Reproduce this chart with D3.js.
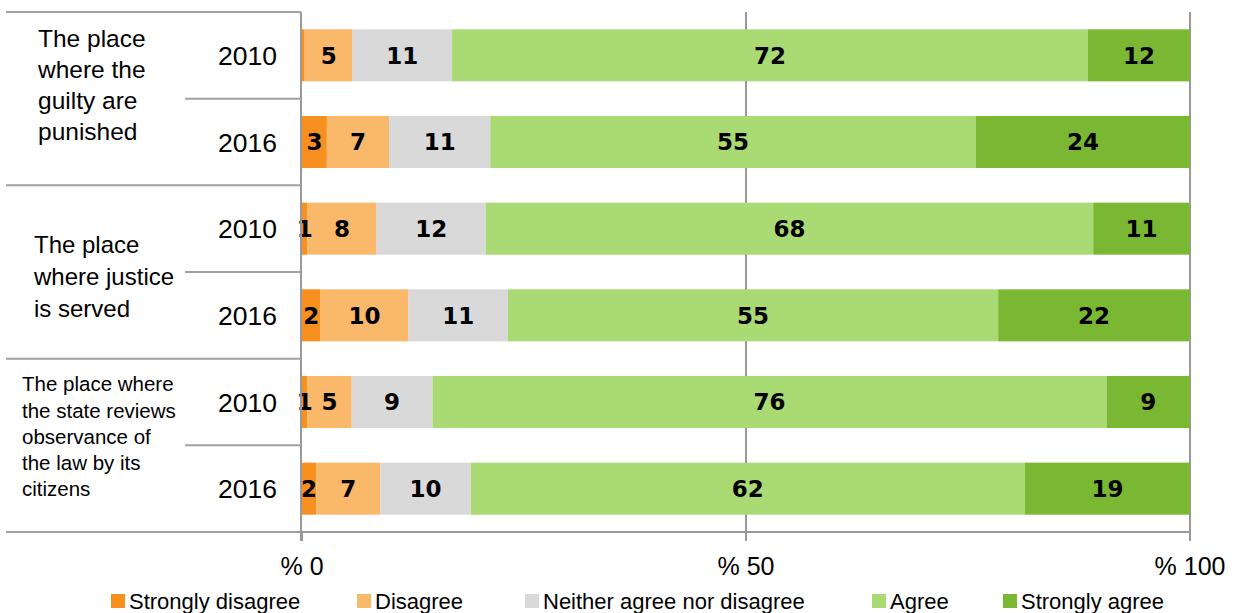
<!DOCTYPE html>
<style>
body { margin: 0; background: #fff; }
text { font-family: "Liberation Sans", Arial, sans-serif; }
</style>
<svg width="1243" height="613"></svg>
<script src="https://d3js.org/d3.v7.min.js"></script>
<script>

var groups = [
  ["The place", "where the", "guilty are", "punished"],
  ["The place", "where justice", "is served"],
  ["The place where", "the state reviews", "observance of", "the law by its", "citizens"]
];
var years = ["2010", "2016"];
var keys = ["Strongly disagree", "Disagree", "Neither agree nor disagree", "Agree", "Strongly agree"];

// percent per row, in the order of keys
var guilty2010  = [0.3, 5.4, 11.2, 71.6, 11.5];
var guilty2016  = [2.8, 7.0, 11.4, 54.7, 24.1];
var justice2010 = [0.6, 7.8, 12.3, 68.4, 10.9];
var justice2016 = [2.1, 9.9, 11.2, 55.2, 21.6];
var state2010   = [0.6, 5.0, 9.1, 75.9, 9.4];
var state2016   = [1.6, 7.2, 10.2, 62.4, 18.6];

var tickValues = [0, 50, 100];

var rowsRaw = [guilty2010, guilty2016, justice2010, justice2016, state2010, state2016];
var data = rowsRaw.map(function(v, i) {
  var d = {id: i, group: Math.floor(i / 2), year: years[i % 2]};
  keys.forEach(function(k, j) { d[k] = v[j]; });
  return d;
});

var svg = d3.select("svg");
var x = d3.scaleLinear().domain([0, 100]).range([302, 1190]);
var y = d3.scaleBand().domain(data.map(function(d) { return d.id; }))
    .range([12, 532]).paddingInner(0.4).paddingOuter(0.2);
var z = d3.scaleOrdinal().domain(keys)
    .range(["#f7901e", "#fab86a", "#d9d9d9", "#a9da74", "#7ab833"]);

// gridlines
svg.append("g").selectAll("line")
  .data(tickValues.slice(1))
  .enter().append("line")
    .attr("x1", function(d) { return x(d); })
    .attr("x2", function(d) { return x(d); })
    .attr("y1", 12).attr("y2", 541)
    .attr("stroke", "#999").attr("stroke-width", 2);

var series = d3.stack().keys(keys)(data);

svg.append("g")
  .selectAll("g")
  .data(series)
  .enter().append("g")
    .attr("fill", function(d) { return z(d.key); })
  .selectAll("rect")
  .data(function(d) { return d; })
  .enter().append("rect")
    .attr("x", function(d) { return x(d[0]); })
    .attr("y", function(d) { return y(d.data.id); })
    .attr("width", function(d) { return x(d[1]) - x(d[0]); })
    .attr("height", y.bandwidth());

// value labels
series.forEach(function(s) {
  svg.append("g").selectAll("text")
    .data(s.filter(function(d) { return Math.round(d[1] - d[0]) >= 1; }))
    .enter().append("text")
      .attr("x", function(d) { return (x(d[0]) + x(d[1])) / 2; })
      .attr("y", function(d) { return y(d.data.id) + y.bandwidth() / 2; })
      .attr("dy", "0.36em")
      .attr("text-anchor", "middle")
      .attr("font-size", 23)
      .attr("font-weight", "bold")
      .style("font-family", "'DejaVu Sans', sans-serif")
      .attr("fill", "#000")
      .text(function(d) { return Math.round(d[1] - d[0]); });
});

// left axis and separators
var sep = "#a0a0a0";
svg.append("line").attr("x1", 301).attr("x2", 301).attr("y1", 12).attr("y2", 541)
  .attr("stroke", "#999").attr("stroke-width", 2);
svg.append("line").attr("x1", 301).attr("x2", 1190).attr("y1", 532).attr("y2", 532)
  .attr("stroke", "#999").attr("stroke-width", 2);

var step = y.step();
var groupEdges = [0, 2, 4, 6].map(function(i) { return 12 + i * step; });
svg.append("g").selectAll("line")
  .data(groupEdges)
  .enter().append("line")
    .attr("x1", 6).attr("x2", 301)
    .attr("y1", function(d) { return d; }).attr("y2", function(d) { return d; })
    .attr("stroke", sep).attr("stroke-width", 2);
svg.append("g").selectAll("line")
  .data([1, 3, 5])
  .enter().append("line")
    .attr("x1", 185).attr("x2", 301)
    .attr("y1", function(i) { return 12 + i * step; })
    .attr("y2", function(i) { return 12 + i * step; })
    .attr("stroke", sep).attr("stroke-width", 2);

// year labels
svg.append("g").selectAll("text")
  .data(data)
  .enter().append("text")
    .attr("x", 277)
    .attr("y", function(d) { return y(d.id) + y.bandwidth() / 2; })
    .attr("dy", "0.36em")
    .attr("text-anchor", "end")
    .attr("font-size", 26.5)
    .attr("fill", "#000")
    .text(function(d) { return d.year; });

// group labels
var groupLayout = [
  {x: 38, y: 38, lh: 31, fs: 24.5},
  {x: 34, y: 244, lh: 32, fs: 24},
  {x: 22, y: 384, lh: 26.2, fs: 20.5}
];
groups.forEach(function(lines, gi) {
  var L = groupLayout[gi];
  svg.append("text")
    .attr("x", L.x).attr("y", L.y)
    .attr("font-size", L.fs).attr("fill", "#000")
    .selectAll("tspan")
    .data(lines)
    .enter().append("tspan")
      .attr("x", L.x)
      .attr("y", function(d, i) { return L.y + i * L.lh; })
      .attr("dy", "0.36em")
      .text(function(d) { return d; });
});

// x axis ticks and labels
svg.append("g").selectAll("line")
  .data(tickValues)
  .enter().append("line")
    .attr("x1", function(d) { return x(d); }).attr("x2", function(d) { return x(d); })
    .attr("y1", 532).attr("y2", 541)
    .attr("stroke", "#999").attr("stroke-width", 2);
svg.append("g").selectAll("text")
  .data(tickValues)
  .enter().append("text")
    .attr("x", function(d) { return x(d); })
    .attr("y", 566)
    .attr("dy", "0.36em")
    .attr("text-anchor", "middle")
    .attr("font-size", 25)
    .attr("fill", "#000")
    .text(function(d) { return "% " + d; });

// legend
var legendX = [111, 357, 525, 872, 1003];
var legend = svg.append("g").selectAll("g")
  .data(keys)
  .enter().append("g")
    .attr("transform", function(d, i) { return "translate(" + legendX[i] + ",601)"; });
legend.append("rect")
  .attr("x", 0).attr("y", -7)
  .attr("width", 14).attr("height", 14)
  .attr("fill", z);
legend.append("text")
  .attr("x", 18).attr("y", 0)
  .attr("dy", "0.36em")
  .attr("font-size", 22)
  .attr("fill", "#000")
  .text(function(d) { return d; });

</script>
